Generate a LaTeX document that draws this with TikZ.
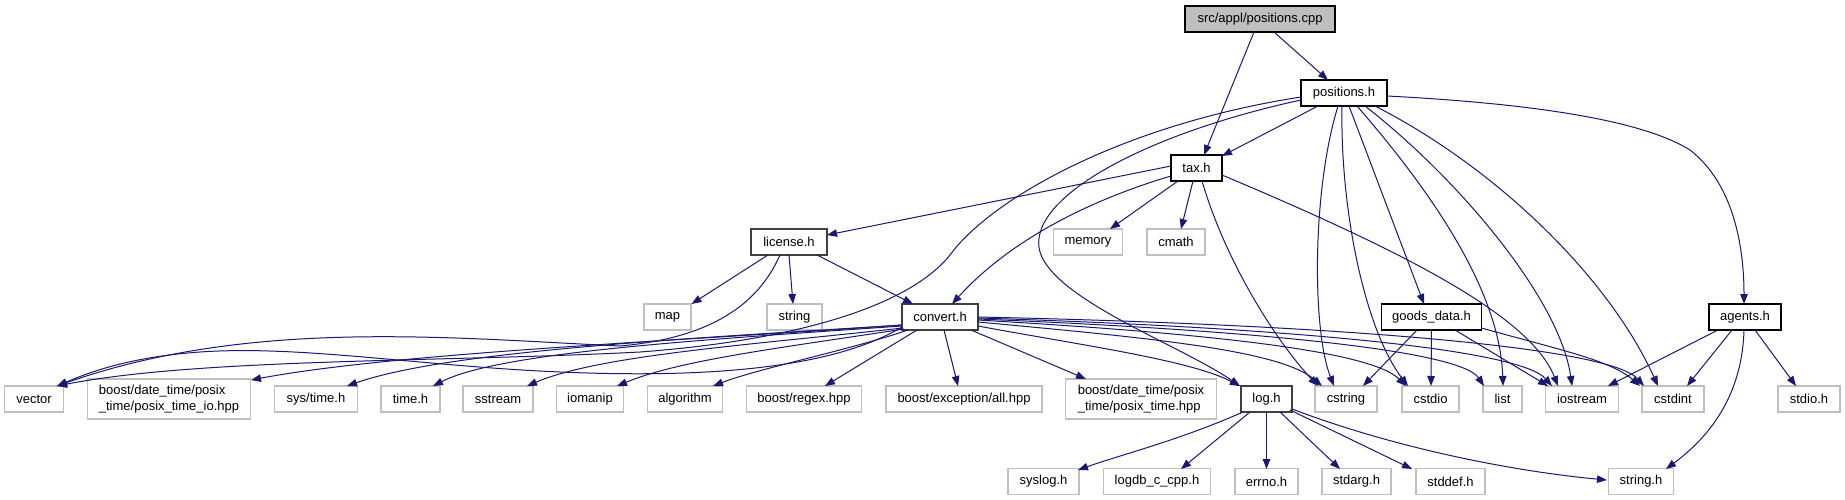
\documentclass[tikz,border=0pt]{standalone}
\usepackage{fontspec}
\setmainfont{Liberation Sans}
\usetikzlibrary{arrows.meta}
\definecolor{edgeblue}{HTML}{191970}
\definecolor{extgray}{HTML}{BFBFBF}
\definecolor{docgray}{HTML}{404040}
\tikzset{
  box/.style={rectangle, minimum height=26pt, inner sep=0pt, line width=1.3pt, fill=white,
    font=\fontsize{13}{15.3}\selectfont},
  ext/.style={box, draw=extgray},
  docnode/.style={box, draw=black},
  docgnode/.style={box, draw=docgray},
  rootnode/.style={box, draw=black, fill=extgray},
  edge/.style={draw=edgeblue, line width=1pt, -{Triangle[length=10pt,width=7.5pt]}}
}
\begin{document}
\begin{tikzpicture}[x=1pt,y=-1pt]
\useasboundingbox[fill=white] (0,0) rectangle (1845,500);
% nodes
\node[rootnode, minimum width=150pt] (root) at (1260,19) {src/appl/positions.cpp};
\node[docnode, minimum width=86pt] (pos) at (1344,93) {positions.h};
\node[docnode, minimum width=51pt] (tax) at (1196.5,168) {tax.h};
\node[docgnode, minimum width=76pt] (lic) at (789,242) {license.h};
\node[ext, minimum width=69pt] (mem) at (1088,242) {memory};
\node[ext, minimum width=58pt] (cmath) at (1176,242) {cmath};
\node[ext, minimum width=47pt] (map) at (667.5,317) {map};
\node[ext, minimum width=55pt] (str) at (794.5,317) {string};
\node[docgnode, minimum width=76pt] (conv) at (940,317) {convert.h};
\node[docnode, minimum width=100pt] (goods) at (1431.5,317) {goods\_data.h};
\node[docnode, minimum width=72pt] (agents) at (1745,317) {agents.h};
\node[ext, minimum width=59pt] (vec) at (34,399) {vector};
\node[ext, minimum width=163pt, minimum height=40pt, align=left] (pio) at (169,399) {boost/date\_time/posix\\\_time/posix\_time\_io.hpp};
\node[ext, minimum width=83pt] (systime) at (316,399) {sys/time.h};
\node[ext, minimum width=59pt] (timeh) at (410.5,399) {time.h};
\node[ext, minimum width=70pt] (sstr) at (498,399) {sstream};
\node[ext, minimum width=67pt] (ioman) at (590,399) {iomanip};
\node[ext, minimum width=75pt] (algo) at (685,399) {algorithm};
\node[ext, minimum width=115pt] (regex) at (804,399) {boost/regex.hpp};
\node[ext, minimum width=156pt] (exc) at (964,399) {boost/exception/all.hpp};
\node[ext, minimum width=151pt, minimum height=40pt, align=left] (ptime) at (1141,399) {boost/date\_time/posix\\\_time/posix\_time.hpp};
\node[docgnode, minimum width=51pt] (logh) at (1266.5,399) {log.h};
\node[ext, minimum width=62pt] (cstring) at (1346,399) {cstring};
\node[ext, minimum width=57pt] (cstdio) at (1430.5,399) {cstdio};
\node[ext, minimum width=39pt] (list) at (1502.5,399) {list};
\node[ext, minimum width=73pt] (iostr) at (1582,399) {iostream};
\node[ext, minimum width=62pt] (cstdint) at (1673,399) {cstdint};
\node[ext, minimum width=62pt] (stdioh) at (1809,399) {stdio.h};
\node[ext, minimum width=71pt] (syslog) at (1043.5,481.5) {syslog.h};
\node[ext, minimum width=107pt] (logdb) at (1157,481.5) {logdb\_c\_cpp.h};
\node[ext, minimum width=63pt] (errno) at (1266.5,481.5) {errno.h};
\node[ext, minimum width=69pt] (stdarg) at (1356.5,481.5) {stdarg.h};
\node[ext, minimum width=69pt] (stddef) at (1450.5,481.5) {stddef.h};
\node[ext, minimum width=65pt] (stringh) at (1641,481.5) {string.h};
% edges from root
\draw[edge] ([shift={(-6,13)}]root.center) -- ([shift={(7.5,-13)}]tax.center);
\draw[edge] ([shift={(14,13)}]root.center) -- ([shift={(-16,-13)}]pos.center);
% edges from positions.h
\draw[edge] ([shift={(-26,13)}]pos.center) -- ([shift={(25.5,-12)}]tax.center);
\draw[edge] ([shift={(-43,4)}]pos.center) .. controls (1120,125) and (990,200) .. (950,255)
  .. controls (910,305) and (800,340) .. (640,352) .. controls (450,362) and (200,358) .. ([shift={(23,-13)}]vec.center);
\draw[edge] ([shift={(-43,7)}]pos.center) .. controls (1140,135) and (1025,200) .. (1040,252)
  .. controls (1055,300) and (1180,345) .. ([shift={(-26.5,-13)}]logh.center);
\draw[edge] ([shift={(-6,13)}]pos.center) .. controls (1312,190) and (1312,330) .. ([shift={(-12,-13)}]cstring.center);
\draw[edge] ([shift={(-2,13)}]pos.center) .. controls (1340,210) and (1365,330) .. ([shift={(-22.5,-13)}]cstdio.center);
\draw[edge] ([shift={(5,13)}]pos.center) -- ([shift={(-7.5,-13)}]goods.center);
\draw[edge] ([shift={(13,13)}]pos.center) .. controls (1430,190) and (1500,290) .. ([shift={(0.5,-13)}]list.center);
\draw[edge] ([shift={(21,13)}]pos.center) .. controls (1460,180) and (1560,300) .. ([shift={(-10,-13)}]iostr.center);
\draw[edge] ([shift={(31,13)}]pos.center) .. controls (1500,170) and (1610,280) .. ([shift={(-15,-13)}]cstdint.center);
\draw[edge] ([shift={(43,3)}]pos.center) .. controls (1560,105) and (1650,125) .. (1690,150)
  .. controls (1735,185) and (1744,250) .. ([shift={(-1,-13)}]agents.center);
% edges from tax.h
\draw[edge] ([shift={(-25.5,-2)}]tax.center) -- ([shift={(38,-7)}]lic.center);
\draw[edge] ([shift={(-25.5,8)}]tax.center) .. controls (1090,200) and (1010,240) .. ([shift={(12,-13)}]conv.center);
\draw[edge] ([shift={(-18.5,13)}]tax.center) -- ([shift={(22,-13)}]mem.center);
\draw[edge] ([shift={(-3.5,13)}]tax.center) -- ([shift={(5,-13)}]cmath.center);
\draw[edge] ([shift={(5.5,13)}]tax.center) .. controls (1225,260) and (1275,340) .. ([shift={(-28,-13)}]cstring.center);
\draw[edge] ([shift={(25.5,7)}]tax.center) .. controls (1400,250) and (1530,315) .. ([shift={(-24,-13)}]iostr.center);
% edges from license.h
\draw[edge] ([shift={(-21,13)}]lic.center) -- ([shift={(24,-13)}]map.center);
\draw[edge] ([shift={(0,13)}]lic.center) -- ([shift={(-1.5,-13)}]str.center);
\draw[edge] ([shift={(28,13)}]lic.center) -- ([shift={(-27,-13)}]conv.center);
\draw[edge] ([shift={(-9,13)}]lic.center) .. controls (758,305) and (710,338) .. (620,346)
  .. controls (450,338) and (250,318) .. ([shift={(23,-13)}]vec.center);
% edges from convert.h (left side)
\draw[edge] ([shift={(-38,10)}]conv.center) .. controls (830,370) and (700,378) .. (560,372)
  .. controls (420,366) and (300,345) .. (200,352) .. controls (130,357) and (90,372) .. ([shift={(23,-13)}]vec.center);
\draw[edge] ([shift={(-38,8)}]conv.center) .. controls (700,340) and (400,352) .. ([shift={(82,-19)}]pio.center);
\draw[edge] ([shift={(-38,8)}]conv.center) .. controls (700,338) and (450,350) .. ([shift={(31,-13)}]systime.center);
\draw[edge] ([shift={(-38,9)}]conv.center) .. controls (700,340) and (500,352) .. ([shift={(22.5,-13)}]timeh.center);
\draw[edge] ([shift={(-37,11)}]conv.center) .. controls (750,345) and (600,355) .. ([shift={(29,-13)}]sstr.center);
\draw[edge] ([shift={(-36,12)}]conv.center) .. controls (780,348) and (680,360) .. ([shift={(27,-13)}]ioman.center);
\draw[edge] ([shift={(-32,13)}]conv.center) .. controls (850,350) and (760,368) .. ([shift={(28,-13)}]algo.center);
\draw[edge] ([shift={(-23,13)}]conv.center) -- ([shift={(21,-13)}]regex.center);
\draw[edge] ([shift={(4,13)}]conv.center) -- ([shift={(-6,-13)}]exc.center);
\draw[edge] ([shift={(31,13)}]conv.center) -- ([shift={(-55,-20)}]ptime.center);
% edges from convert.h (right side)
\draw[edge] ([shift={(38,9)}]conv.center) .. controls (1080,345) and (1190,360) .. ([shift={(-26.5,-13)}]logh.center);
\draw[edge] ([shift={(38,5)}]conv.center) .. controls (1150,338) and (1280,350) .. ([shift={(-24,-13)}]cstring.center);
\draw[edge] ([shift={(38,3)}]conv.center) .. controls (1200,333) and (1370,350) .. ([shift={(-24.5,-13)}]cstdio.center);
\draw[edge] ([shift={(38,2)}]conv.center) .. controls (1250,330) and (1460,350) .. ([shift={(-18.5,-13)}]list.center);
\draw[edge] ([shift={(38,1)}]conv.center) .. controls (1300,328) and (1520,350) .. ([shift={(-30,-13)}]iostr.center);
\draw[edge] ([shift={(38,0)}]conv.center) .. controls (1350,325) and (1610,348) .. ([shift={(-29,-13)}]cstdint.center);
% edges from goods_data.h
\draw[edge] ([shift={(-14.5,13)}]goods.center) -- ([shift={(17,-13)}]cstring.center);
\draw[edge] ([shift={(0,13)}]goods.center) -- ([shift={(0.5,-13)}]cstdio.center);
\draw[edge] ([shift={(23.5,13)}]goods.center) -- ([shift={(-34,-13)}]iostr.center);
\draw[edge] ([shift={(50,11)}]goods.center) .. controls (1560,350) and (1610,360) .. ([shift={(-33,-13)}]cstdint.center);
% edges from agents.h
\draw[edge] ([shift={(-27,13)}]agents.center) -- ([shift={(26,-13)}]iostr.center);
\draw[edge] ([shift={(-13,13)}]agents.center) -- ([shift={(14,-13)}]cstdint.center);
\draw[edge] ([shift={(10,13)}]agents.center) -- ([shift={(-13,-13)}]stdioh.center);
\draw[edge] ([shift={(-1,13)}]agents.center) .. controls (1742,400) and (1705,440) .. ([shift={(25,-12.5)}]stringh.center);
% edges from log.h
\draw[edge] ([shift={(-23.5,13)}]logh.center) .. controls (1180,440) and (1120,455) .. ([shift={(34.5,-11.5)}]syslog.center);
\draw[edge] ([shift={(-16.5,13)}]logh.center) -- ([shift={(24,-12.5)}]logdb.center);
\draw[edge] ([shift={(0,13)}]logh.center) -- ([shift={(0,-12.5)}]errno.center);
\draw[edge] ([shift={(13.5,13)}]logh.center) -- ([shift={(-16.5,-12.5)}]stdarg.center);
\draw[edge] ([shift={(23.5,11)}]logh.center) -- ([shift={(-38.5,-12.5)}]stddef.center);
\draw[edge] ([shift={(25.5,10)}]logh.center) .. controls (1400,450) and (1520,472) .. ([shift={(-34,-1.5)}]stringh.center);
\end{tikzpicture}
\end{document}
